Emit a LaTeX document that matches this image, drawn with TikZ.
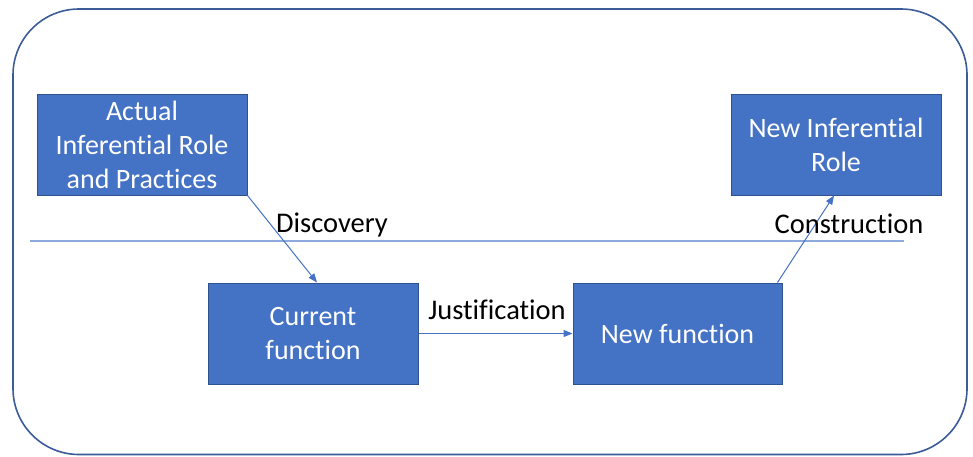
\documentclass[tikz,border=0pt]{standalone}
\usepackage{fontspec}
\setmainfont[Ligatures=NoCommon]{Carlito}
\usetikzlibrary{arrows.meta}
\definecolor{boxfill}{HTML}{4472C4}
\definecolor{boxborder}{HTML}{2F528F}
\definecolor{linecol}{HTML}{4472C4}
\definecolor{hlinecol}{HTML}{8EA9DB}
\definecolor{outercol}{HTML}{3B5C99}
\begin{document}
\begin{tikzpicture}[x=1pt,y=-1pt,
  box/.style={draw=boxborder, fill=boxfill, line width=1pt, text=white, align=center,
    font=\fontsize{28}{34}\selectfont, inner sep=0pt, minimum width=210pt, minimum height=101pt},
  lbl/.style={font=\fontsize{28.5}{34}\selectfont, text=black, anchor=base, inner sep=0pt},
  conn/.style={draw=linecol, line width=1pt, -{Triangle[length=9pt,width=7pt]}}]
\useasboundingbox (0,0) rectangle (973,456);
\draw[outercol, line width=1.6pt, rounded corners=66pt] (13,9) rectangle (967,454.5);
\coordinate (hl1) at (30,241);
\coordinate (hl2) at (904,241);
\draw[hlinecol, line width=1.3pt] (hl1) -- (hl2);
\node[box] (actual) at (142,144.5) {Actual\\Inferential Role\\and Practices};
\node[box] (newrole) at (836,144.5) {New Inferential\\Role};
\node[box] (current) at (313,333.5) {Current\\function};
\node[box, minimum width=209pt] (newfunc) at (677.5,333.5) {New function};
\draw[conn] (actual.south east) -- ([xshift=4pt]current.north);
\draw[conn] (current.east) -- (newfunc.west);
\draw[conn] ([xshift=-5pt]newfunc.north east) -- ([xshift=-2pt]newrole.south);
\node[lbl] (ldisc) at (332,232) {Discovery};
\node[lbl] (ljust) at (497,319) {Justification};
\node[lbl] (lcons) at (849,233) {Construction};
\end{tikzpicture}
\end{document}
